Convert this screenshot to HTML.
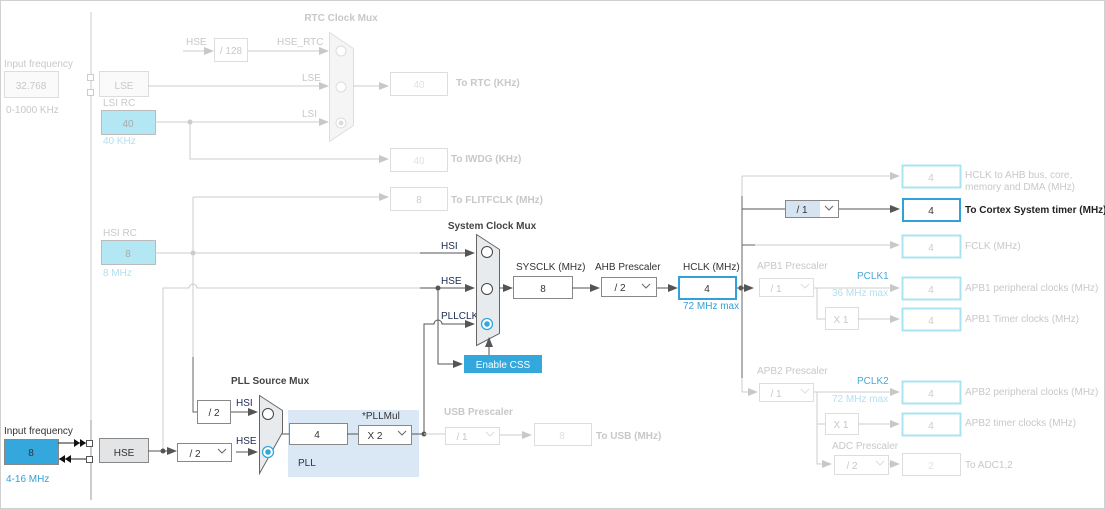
<!DOCTYPE html>
<html><head><meta charset="utf-8"><style>
html,body{margin:0;padding:0;background:#fff}
svg{display:block;font-family:"Liberation Sans",Arial,sans-serif}
.f{fill:#c8c8c8}
.d{fill:#333}
text{font-size:10px}
</style></head><body>
<svg width="1105" height="509" viewBox="0 0 1105 509" xmlns="http://www.w3.org/2000/svg">
<defs>
<marker id="ad" markerUnits="userSpaceOnUse" markerWidth="10" markerHeight="10" refX="9" refY="5" orient="auto"><path d="M0,1 L10,5 L0,9 Z" fill="#555"/></marker>
<marker id="al" markerUnits="userSpaceOnUse" markerWidth="10" markerHeight="10" refX="9" refY="5" orient="auto"><path d="M0,1 L10,5 L0,9 Z" fill="#c8c8c8"/></marker>
</defs>
<rect x="0.5" y="0.5" width="1104" height="508" fill="none" stroke="#d0d0d0"/>
<line x1="91" y1="12" x2="91" y2="500" stroke="#ccc"/>
<line x1="91" y1="420" x2="91" y2="500" stroke="#999"/>

<text x="4" y="67" class="f">Input frequency</text>
<rect x="4.5" y="71.5" width="54" height="26" fill="#fafafa" stroke="#ddd"/>
<text x="31" y="89" class="f" text-anchor="middle" font-size="11">32.768</text>
<text x="6" y="113" class="f">0-1000 KHz</text>
<rect x="87.5" y="74.5" width="6" height="6" fill="#fff" stroke="#ccc"/>
<rect x="87.5" y="89.5" width="6" height="6" fill="#fff" stroke="#ccc"/>
<rect x="99.5" y="71.5" width="49" height="25" fill="#fafafa" stroke="#ddd"/>
<text x="124" y="89" class="f" text-anchor="middle" font-size="14">LSE</text>
<text x="103" y="106" class="f">LSI RC</text>
<rect x="101.5" y="110.5" width="54" height="24" fill="#b3e7f3" stroke="#bbb"/>
<text x="128" y="127" fill="#aaa" text-anchor="middle" font-size="11">40</text>
<text x="103" y="144" fill="#b3e0f0">40 KHz</text>

<text x="341" y="21" class="f" text-anchor="middle" font-weight="bold" font-size="9">RTC Clock Mux</text>
<text x="186" y="45" class="f">HSE</text>
<line x1="183" y1="51" x2="213" y2="51" stroke="#ccc" marker-end="url(#al)"/>
<rect x="214.5" y="38.5" width="33" height="23" fill="#fff" stroke="#ddd"/>
<text x="231" y="54" class="f" text-anchor="middle" font-size="11">/ 128</text>
<text x="277" y="45" class="f">HSE_RTC</text>
<line x1="248" y1="51" x2="328" y2="51" stroke="#ccc" marker-end="url(#al)"/>
<polygon points="329.5,32.5 353.5,48.5 353.5,125.5 329.5,141.5" fill="#f5f5f5" stroke="#ddd"/>
<circle cx="341" cy="51" r="5" fill="#fff" stroke="#ddd"/>
<circle cx="341" cy="87" r="5" fill="#fff" stroke="#ddd"/>
<circle cx="341" cy="123" r="5" fill="#fff" stroke="#ddd"/><circle cx="341" cy="123" r="2.5" fill="#ddd"/>
<text x="302" y="81" class="f">LSE</text>
<line x1="148" y1="86" x2="328" y2="86" stroke="#ccc" marker-end="url(#al)"/>
<text x="302" y="117" class="f">LSI</text>
<line x1="155" y1="122" x2="328" y2="122" stroke="#ccc" marker-end="url(#al)"/>
<circle cx="190" cy="122" r="2.5" fill="#ccc"/>
<line x1="353" y1="86" x2="388" y2="86" stroke="#ccc" marker-end="url(#al)"/>
<rect x="390.5" y="72.5" width="57" height="23" fill="#fff" stroke="#ddd"/>
<text x="419" y="88" fill="#e0e0e0" text-anchor="middle" font-size="11">40</text>
<text x="456" y="86" class="f" font-weight="bold" font-size="9.5">To RTC (KHz)</text>
<polyline points="190,122 190,159 388,159" fill="none" stroke="#ccc" marker-end="url(#al)"/>
<rect x="390.5" y="148.5" width="57" height="23" fill="#fff" stroke="#ddd"/>
<text x="419" y="164" fill="#e0e0e0" text-anchor="middle" font-size="11">40</text>
<text x="451" y="162" class="f" font-weight="bold" font-size="9.5">To IWDG (KHz)</text>
<line x1="193" y1="197" x2="388" y2="197" stroke="#ccc" marker-end="url(#al)"/>
<rect x="390.5" y="187.5" width="57" height="23" fill="#fff" stroke="#ddd"/>
<text x="419" y="203" fill="#ccc" text-anchor="middle" font-size="11">8</text>
<text x="451" y="203" class="f" font-weight="bold" font-size="9.5">To FLITFCLK (MHz)</text>

<text x="103" y="236" class="f">HSI RC</text>
<rect x="101.5" y="240.5" width="54" height="24" fill="#b3e7f3" stroke="#bbb"/>
<text x="128" y="257" fill="#aaa" text-anchor="middle" font-size="11">8</text>
<text x="103" y="276" fill="#b3e0f0">8 MHz</text>
<line x1="193" y1="197" x2="193" y2="357" stroke="#ccc"/>
<polyline points="193,357 193,412 197,412" fill="none" stroke="#666"/>
<line x1="155" y1="253" x2="420" y2="253" stroke="#ccc"/>
<line x1="420" y1="253" x2="474" y2="253" stroke="#555" marker-end="url(#ad)"/>
<circle cx="193" cy="253" r="2.5" fill="#ccc"/>

<path d="M163,451 L163,288 L189,288 A4,4 0 0 1 197,288 L420,288" fill="none" stroke="#ccc"/>
<line x1="420" y1="288" x2="474" y2="288" stroke="#555" marker-end="url(#ad)"/>
<circle cx="438" cy="288" r="2.5" fill="#555"/>
<polyline points="438,288 438,364 462,364" fill="none" stroke="#555" marker-end="url(#ad)"/>
<path d="M424,434 L424,324 L434,324 A4,4 0 0 1 442,324 L474,324" fill="none" stroke="#555" marker-end="url(#ad)"/>
<text x="441" y="249" fill="#1a2a50" font-size="9.5">HSI</text>
<text x="441" y="284" fill="#1a2a50" font-size="9.5">HSE</text>
<text x="441" y="319" fill="#1a2a50" font-size="9.5">PLLCLK</text>
<text x="492" y="229" fill="#444" text-anchor="middle" font-weight="bold" font-size="9">System Clock Mux</text>
<polygon points="476.5,234.5 499.5,249.5 499.5,333.5 476.5,345.5" fill="#e8ebee" stroke="#666"/>
<circle cx="487" cy="252" r="5.5" fill="#fff" stroke="#444"/>
<circle cx="487" cy="289" r="5.5" fill="#fff" stroke="#444"/>
<circle cx="487" cy="324" r="5.5" fill="#fff" stroke="#34a8dc" stroke-width="1.3"/><circle cx="487" cy="324" r="2.8" fill="#34a8dc"/>
<line x1="489" y1="355" x2="489" y2="338" stroke="#555" marker-end="url(#ad)"/>
<rect x="464" y="355" width="78" height="18" fill="#34a8dc"/>
<text x="503" y="368" fill="#fff" text-anchor="middle" font-size="11">Enable CSS</text>

<line x1="499" y1="288" x2="512" y2="288" stroke="#555" marker-end="url(#ad)"/>
<text x="516" y="270" fill="#333">SYSCLK (MHz)</text>
<rect x="513.5" y="276.5" width="59" height="22" fill="#fff" stroke="#888"/>
<text x="543" y="292" class="d" text-anchor="middle" font-size="11">8</text>
<line x1="572" y1="288" x2="599" y2="288" stroke="#555" marker-end="url(#ad)"/>
<text x="595" y="270" fill="#333">AHB Prescaler</text>
<rect x="601.5" y="277.5" width="55" height="19" fill="#fff" stroke="#888"/>
<text x="620" y="291" class="d" text-anchor="middle" font-size="11">/ 2</text>
<polyline points="642,284 646,288 650,284" fill="none" stroke="#666"/>
<line x1="657" y1="288" x2="677" y2="288" stroke="#555" marker-end="url(#ad)"/>
<text x="683" y="270" fill="#333">HCLK (MHz)</text>
<rect x="679" y="277" width="57" height="22" fill="#fff" stroke="#34a0d8" stroke-width="2"/>
<text x="707" y="292" class="d" text-anchor="middle" font-size="11">4</text>
<text x="683" y="309" fill="#34a0d8">72 MHz max</text>
<circle cx="741" cy="288" r="2.5" fill="#555"/>
<line x1="737" y1="288" x2="753" y2="288" stroke="#555" marker-end="url(#ad)"/>
<line x1="742" y1="176" x2="742" y2="196" stroke="#ccc"/>
<line x1="742" y1="196" x2="742" y2="378" stroke="#666"/>
<line x1="742" y1="378" x2="742" y2="392" stroke="#ccc"/>

<line x1="742" y1="176" x2="899" y2="176" stroke="#ccc" marker-end="url(#al)"/>
<rect x="902.5" y="165.5" width="58" height="22" fill="#fff" stroke="#a8e4f0" stroke-width="2"/>
<text x="931" y="181" fill="#ccc" text-anchor="middle" font-size="11">4</text>
<text x="965" y="178" class="f">HCLK to AHB bus, core,</text>
<text x="965" y="190" class="f">memory and DMA (MHz)</text>

<line x1="742" y1="209" x2="785" y2="209" stroke="#555"/>
<rect x="785.5" y="200.5" width="53" height="17" fill="#fff" stroke="#888"/>
<rect x="786" y="201" width="34" height="16" fill="#d6e4f2"/>
<text x="802" y="213" class="d" text-anchor="middle" font-size="11">/ 1</text>
<polyline points="825,206 829,210 833,206" fill="none" stroke="#666"/>
<line x1="839" y1="209" x2="899" y2="209" stroke="#555" marker-end="url(#ad)"/>
<rect x="903" y="199" width="57" height="22" fill="#fff" stroke="#34a0d8" stroke-width="2"/>
<text x="931" y="214" class="d" text-anchor="middle" font-size="11">4</text>
<text x="965" y="213" fill="#222" font-weight="bold" font-size="9">To Cortex System timer (MHz)</text>

<line x1="742" y1="245" x2="755" y2="245" stroke="#666"/>
<line x1="755" y1="245" x2="899" y2="245" stroke="#ccc" marker-end="url(#al)"/>
<rect x="902.5" y="235.5" width="58" height="22" fill="#fff" stroke="#a8e4f0" stroke-width="2"/>
<text x="931" y="251" fill="#ccc" text-anchor="middle" font-size="11">4</text>
<text x="965" y="249" class="f">FCLK (MHz)</text>

<text x="757" y="269" class="f">APB1 Prescaler</text>
<rect x="759.5" y="278.5" width="54" height="18" fill="#fff" stroke="#ddd"/>
<text x="776" y="292" class="f" text-anchor="middle" font-size="11">/ 1</text>
<polyline points="801,284 805,288 809,284" fill="none" stroke="#ddd"/>
<line x1="814" y1="288" x2="899" y2="288" stroke="#ccc" marker-end="url(#al)"/>
<text x="857" y="279" fill="#4aa8d8" font-size="9">PCLK1</text>
<text x="832" y="296" fill="#b3e0f0" font-size="9">36 MHz max</text>
<rect x="902.5" y="277.5" width="58" height="22" fill="#fff" stroke="#a8e4f0" stroke-width="2"/>
<text x="931" y="293" fill="#ccc" text-anchor="middle" font-size="11">4</text>
<text x="965" y="291" class="f">APB1 peripheral clocks (MHz)</text>
<polyline points="817,288 817,319 825,319" fill="none" stroke="#ccc"/>
<rect x="825.5" y="307.5" width="33" height="22" fill="#fff" stroke="#ddd"/>
<text x="841" y="323" class="f" text-anchor="middle" font-size="11">X 1</text>
<line x1="858" y1="319" x2="899" y2="319" stroke="#ccc" marker-end="url(#al)"/>
<rect x="902.5" y="308.5" width="58" height="22" fill="#fff" stroke="#a8e4f0" stroke-width="2"/>
<text x="931" y="324" fill="#ccc" text-anchor="middle" font-size="11">4</text>
<text x="965" y="322" class="f">APB1 Timer clocks (MHz)</text>

<text x="757" y="374" class="f">APB2 Prescaler</text>
<line x1="742" y1="392" x2="757" y2="392" stroke="#ccc" marker-end="url(#al)"/>
<rect x="759.5" y="383.5" width="54" height="18" fill="#fff" stroke="#ddd"/>
<text x="776" y="397" class="f" text-anchor="middle" font-size="11">/ 1</text>
<polyline points="801,389 805,393 809,389" fill="none" stroke="#ddd"/>
<line x1="814" y1="392" x2="899" y2="392" stroke="#ccc" marker-end="url(#al)"/>
<text x="857" y="384" fill="#4aa8d8" font-size="9">PCLK2</text>
<text x="832" y="402" fill="#b3e0f0" font-size="9">72 MHz max</text>
<rect x="902.5" y="381.5" width="58" height="22" fill="#fff" stroke="#a8e4f0" stroke-width="2"/>
<text x="931" y="397" fill="#ccc" text-anchor="middle" font-size="11">4</text>
<text x="965" y="395" class="f">APB2 peripheral clocks (MHz)</text>
<polyline points="817,392 817,424 825,424" fill="none" stroke="#ccc"/>
<rect x="825.5" y="413.5" width="33" height="21" fill="#fff" stroke="#ddd"/>
<text x="841" y="428" class="f" text-anchor="middle" font-size="11">X 1</text>
<line x1="858" y1="424" x2="899" y2="424" stroke="#ccc" marker-end="url(#al)"/>
<rect x="902.5" y="413.5" width="58" height="22" fill="#fff" stroke="#a8e4f0" stroke-width="2"/>
<text x="931" y="429" fill="#ccc" text-anchor="middle" font-size="11">4</text>
<text x="965" y="426" class="f">APB2 timer clocks (MHz)</text>
<text x="832" y="449" class="f">ADC Prescaler</text>
<polyline points="817,424 817,464 831,464" fill="none" stroke="#ccc" marker-end="url(#al)"/>
<rect x="834.5" y="455.5" width="54" height="19" fill="#fff" stroke="#ddd"/>
<text x="852" y="469" class="f" text-anchor="middle" font-size="11">/ 2</text>
<polyline points="876,461 880,465 884,461" fill="none" stroke="#ddd"/>
<line x1="889" y1="464" x2="899" y2="464" stroke="#ccc" marker-end="url(#al)"/>
<rect x="902.5" y="453.5" width="58" height="22" fill="#fff" stroke="#ddd"/>
<text x="931" y="469" fill="#e0e0e0" text-anchor="middle" font-size="11">2</text>
<text x="965" y="468" class="f">To ADC1,2</text>

<text x="4" y="434" fill="#333">Input frequency</text>
<rect x="4.5" y="439.5" width="54" height="25" fill="#34a8dc" stroke="#888"/>
<text x="31" y="456" fill="#333" text-anchor="middle" font-size="11">8</text>
<text x="6" y="482" fill="#34a0d8">4-16 MHz</text>
<line x1="58" y1="443" x2="87" y2="443" stroke="#222"/>
<path d="M74,439 L80,443 L74,447 Z M80,439 L86,443 L80,447 Z" fill="#111"/>
<line x1="59" y1="459" x2="87" y2="459" stroke="#222"/>
<path d="M65,455 L59,459 L65,463 Z M71,455 L65,459 L71,463 Z" fill="#111"/>
<rect x="86.5" y="440.5" width="6" height="6" fill="#fff" stroke="#555"/>
<rect x="86.5" y="456.5" width="6" height="6" fill="#fff" stroke="#555"/>
<rect x="99.5" y="438.5" width="49" height="24" fill="#e2e4e6" stroke="#888"/>
<text x="124" y="456" fill="#333" text-anchor="middle" font-size="14">HSE</text>
<line x1="148" y1="451" x2="176" y2="451" stroke="#555" marker-end="url(#ad)"/>
<circle cx="163" cy="451" r="2.5" fill="#555"/>
<rect x="177.5" y="443.5" width="54" height="18" fill="#fff" stroke="#888"/>
<text x="195" y="457" class="d" text-anchor="middle" font-size="11">/ 2</text>
<polyline points="218,449 222,453 226,449" fill="none" stroke="#666"/>
<line x1="236" y1="452" x2="257" y2="452" stroke="#555" marker-end="url(#ad)"/>
<text x="236" y="444" fill="#1a2a50" font-size="9.5">HSE</text>
<rect x="197.5" y="400.5" width="33" height="23" fill="#fff" stroke="#888"/>
<text x="214" y="416" class="d" text-anchor="middle" font-size="11">/ 2</text>
<line x1="231" y1="412" x2="257" y2="412" stroke="#555" marker-end="url(#ad)"/>
<text x="236" y="406" fill="#1a2a50" font-size="9.5">HSI</text>
<text x="231" y="384" fill="#444" font-weight="bold" font-size="9">PLL Source Mux</text>
<polygon points="259.5,395.5 282.5,410.5 282.5,432.5 259.5,473.5" fill="#e8ebee" stroke="#666"/>
<circle cx="268" cy="414" r="5.5" fill="#fff" stroke="#444"/>
<circle cx="268" cy="452" r="5.5" fill="#fff" stroke="#34a8dc" stroke-width="1.3"/><circle cx="268" cy="452" r="2.8" fill="#34a8dc"/>
<rect x="288" y="410" width="131" height="67" fill="#dae8f5"/>
<line x1="282" y1="434" x2="289" y2="434" stroke="#555"/>
<text x="362" y="419" fill="#333" font-size="9">*PLLMul</text>
<rect x="289.5" y="423.5" width="58" height="21" fill="#fff" stroke="#888"/>
<text x="317" y="438" class="d" text-anchor="middle" font-size="11">4</text>
<line x1="347" y1="434" x2="358" y2="434" stroke="#555"/>
<rect x="358.5" y="425.5" width="53" height="19" fill="#fff" stroke="#888"/>
<text x="375" y="439" class="d" text-anchor="middle" font-size="11">X 2</text>
<polyline points="398,431 402,435 406,431" fill="none" stroke="#666"/>
<text x="298" y="466" fill="#333">PLL</text>
<line x1="412" y1="434" x2="424" y2="434" stroke="#555"/>
<circle cx="424" cy="434" r="2.5" fill="#555"/>
<line x1="424" y1="434" x2="445" y2="434" stroke="#ccc"/>
<text x="444" y="415" class="f" font-weight="bold" font-size="9">USB Prescaler</text>
<rect x="445.5" y="427.5" width="54" height="17" fill="#fff" stroke="#ddd"/>
<text x="462" y="440" class="f" text-anchor="middle" font-size="11">/ 1</text>
<polyline points="486,432 490,436 494,432" fill="none" stroke="#ddd"/>
<line x1="500" y1="435" x2="531" y2="435" stroke="#ccc" marker-end="url(#al)"/>
<rect x="534.5" y="423.5" width="57" height="22" fill="#fff" stroke="#ddd"/>
<text x="562" y="439" fill="#e0e0e0" text-anchor="middle" font-size="11">8</text>
<text x="596" y="439" class="f" font-weight="bold" font-size="9.5">To USB (MHz)</text>
</svg>
</body></html>
